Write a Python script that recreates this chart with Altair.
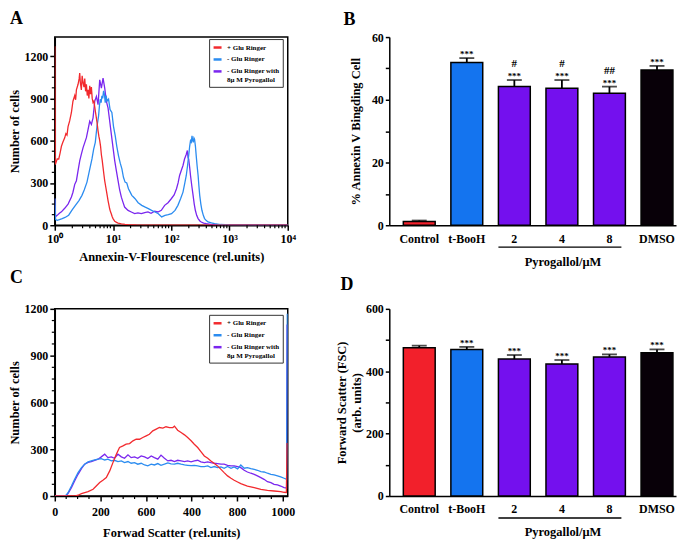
import altair as alt
import pandas as pd

FONT = "Liberation Serif"

# ---------------- shared categories / colours ----------------
SERIES = ["+ Glu Ringer", "- Glu Ringer", "- Glu Ringer with 8μM Pyrogallol"]
SERIES_SPLIT = ["- Glu Ringer with", "8μ M Pyrogallol"]
LINE_COLORS = ["#f22a2e", "#2b8cf0", "#7a26ee"]

CATS = ["Control", "t-BooH", "2", "4", "8", "DMSO"]
BAR_COLORS = ["#f2202b", "#1474ef", "#7410ee", "#7410ee", "#7410ee", "#080008"]
GROUP_LABEL = "Pyrogallol/μM"

# ---------------- Panel A: Annexin-V fluorescence (log x) ----------------
A_RED = [(1.0, 1270), (1.02, 430), (1.1, 470), (1.17, 470), (1.23, 510), (1.3, 560), (1.38, 590),
         (1.48, 620), (1.55, 650), (1.62, 640), (1.69, 700), (1.8, 740), (1.93, 800), (2.05, 880),
         (2.2, 920), (2.28, 890), (2.35, 960), (2.51, 1000), (2.62, 1040), (2.68, 1080), (2.75, 1010),
         (2.86, 960), (2.95, 1060), (3.06, 1010), (3.17, 980), (3.27, 1040), (3.38, 950), (3.49, 1000),
         (3.61, 920), (3.73, 960), (3.85, 900), (3.98, 990), (4.12, 930), (4.25, 980), (4.39, 900),
         (4.54, 870), (4.7, 880), (4.85, 840), (5.01, 800), (5.18, 760), (5.35, 720), (5.53, 670),
         (5.72, 630), (5.91, 600), (6.11, 560), (6.31, 500), (6.52, 460), (6.74, 410), (6.97, 360),
         (7.2, 315), (7.44, 280), (7.69, 245), (7.95, 210), (8.21, 175), (8.49, 145), (8.77, 115),
         (9.06, 95), (9.36, 80), (9.68, 60), (10.0, 47), (10.7, 28), (11.5, 20), (12.2, 15), (13.9, 10),
         (16.0, 6), (18.1, 4), (25.0, 2), (40.0, 1), (60.0, 0), (10000, 0)]
A_BLUE = [(1.0, 190), (1.03, 40), (1.1, 35), (1.2, 40), (1.34, 47), (1.5, 55), (1.73, 71), (2.0, 110),
          (2.26, 141), (2.6, 175), (2.93, 212), (3.2, 250), (3.57, 306), (3.9, 380), (4.35, 470),
          (4.65, 540), (4.96, 588), (5.3, 700), (5.65, 776), (5.85, 850), (6.03, 894), (6.25, 870),
          (6.44, 918), (6.65, 900), (6.88, 953), (7.1, 930), (7.35, 870), (7.6, 920), (7.9, 880),
          (8.38, 894), (8.9, 820), (9.55, 800), (10.2, 700), (10.9, 635), (11.6, 560), (12.4, 494),
          (13.3, 440), (14.2, 400), (15.1, 340), (16.1, 306), (17.2, 300), (18.4, 259), (19.7, 235),
          (21.0, 212), (22.4, 200), (23.9, 188), (27, 160), (31.1, 141), (35, 130), (40.4, 118),
          (46, 105), (52.6, 94), (60, 82), (68.4, 59), (78, 70), (88.9, 75), (101, 82), (116, 105),
          (130, 141), (145, 190), (159, 235), (171, 300), (181, 353), (190, 420), (199, 494),
          (207, 560), (214, 600), (221, 590), (227, 635), (233, 600), (239, 588), (245, 620),
          (251, 611), (260, 560), (268, 494), (278, 420), (289, 353), (298, 280), (308, 212),
          (322, 150), (336, 106), (355, 70), (373, 47), (400, 33), (427, 23), (490, 16), (554, 11),
          (700, 5), (1000, 2), (10000, 0)]
A_PURPLE = [(1.0, 190), (1.03, 60), (1.1, 70), (1.2, 85), (1.3, 95), (1.48, 120), (1.69, 150),
            (1.93, 200), (2.05, 234), (2.2, 290), (2.35, 316), (2.51, 387), (2.68, 457), (2.86, 504),
            (3.06, 551), (3.27, 586), (3.49, 621), (3.73, 680), (3.98, 738), (4.25, 715), (4.54, 762),
            (4.85, 879), (5.18, 914), (5.53, 855), (5.91, 1031), (6.31, 973), (6.74, 1043), (7.2, 973),
            (7.69, 879), (8.21, 832), (8.77, 738), (9.36, 645), (10.0, 551), (10.7, 457), (11.4, 387),
            (12.2, 316), (13.0, 250), (13.9, 199), (14.8, 164), (15.8, 129), (18.1, 105), (20.6, 94),
            (23.5, 82), (26.8, 88), (30.6, 82), (35, 90), (39.8, 94), (45, 85), (51.8, 100), (59, 94),
            (67.5, 106), (77, 141), (88, 160), (100, 188), (112, 215), (123, 259), (131, 300),
            (139, 353), (149, 390), (159, 424), (169, 470), (180, 500), (189, 530), (194, 480),
            (199, 470), (207, 410), (214, 353), (225, 280), (237, 212), (248, 150), (259, 106),
            (273, 70), (289, 47), (310, 30), (327, 23), (360, 15), (400, 11), (500, 5), (700, 2),
            (10000, 0)]
A_X_TICKS = [1, 10, 100, 1000, 10000]
A_X_LABELS = ["10⁰", "10¹", "10²", "10³", "10⁴"]
A_X_MINOR = [2, 3, 4, 5, 6, 7, 8, 9, 20, 30, 40, 50, 60, 70, 80, 90,
             200, 300, 400, 500, 600, 700, 800, 900, 2000, 3000, 4000, 5000, 6000, 7000, 8000, 9000]
HIST_Y_TICKS = [0, 300, 600, 900, 1200]
HIST_Y_MINOR = [75, 150, 225, 375, 450, 525, 675, 750, 825, 975, 1050, 1125]

# ---------------- Panel C: forward scatter (linear x) ----------------
C_RED = [(0, 0), (87, 0), (102, 5), (117, 15), (146, 28), (168, 43), (182, 64), (197, 86), (211, 101),
         (226, 118), (241, 161), (255, 214), (270, 268), (284, 311), (299, 321), (313, 332), (328, 336),
         (343, 354), (357, 364), (372, 364), (386, 375), (401, 386), (415, 396), (430, 418), (445, 429),
         (459, 439), (474, 435), (488, 444), (503, 439), (518, 439), (525, 448), (539, 422), (554, 407),
         (569, 392), (583, 375), (598, 354), (612, 332), (627, 311), (641, 285), (656, 257), (671, 242),
         (685, 225), (700, 208), (714, 193), (729, 171), (743, 150), (758, 129), (773, 114), (787, 101),
         (802, 90), (816, 79), (845, 64), (875, 54), (904, 43), (933, 36), (962, 32), (991, 28),
         (1006, 24), (1016, 22), (1019, 340)]
C_BLUE = [(0, 0), (29, 0), (47, 0), (58, 21), (73, 64), (87, 107), (102, 150), (117, 182), (131, 204),
          (146, 219), (160, 225), (175, 231), (190, 236), (204, 240), (219, 231), (233, 236), (248, 225),
          (262, 229), (277, 221), (292, 225), (306, 214), (321, 221), (335, 210), (350, 214), (364, 204),
          (379, 210), (394, 199), (408, 193), (423, 204), (437, 199), (452, 208), (466, 197), (481, 204),
          (496, 212), (510, 206), (525, 204), (539, 210), (554, 204), (569, 199), (583, 197), (598, 195),
          (612, 197), (627, 193), (641, 189), (656, 189), (671, 193), (685, 182), (700, 189), (714, 182),
          (729, 186), (743, 178), (758, 189), (773, 178), (787, 186), (802, 174), (816, 199), (831, 178),
          (845, 182), (860, 176), (875, 171), (889, 165), (904, 156), (918, 154), (933, 146), (948, 139),
          (962, 135), (977, 129), (991, 122), (1006, 114), (1017, 107), (1020, 1168)]
C_PURPLE = [(0, 0), (47, 0), (58, 15), (73, 54), (87, 96), (102, 139), (117, 176), (131, 204), (146, 216),
            (160, 221), (175, 229), (190, 236), (204, 251), (219, 268), (226, 257), (233, 246), (248, 251),
            (262, 242), (277, 268), (292, 251), (306, 242), (321, 264), (335, 246), (350, 251), (364, 242),
            (379, 257), (394, 251), (408, 240), (423, 257), (437, 246), (452, 236), (466, 262), (481, 242),
            (496, 225), (510, 229), (525, 221), (539, 229), (554, 225), (569, 221), (583, 225), (598, 219),
            (612, 225), (627, 229), (641, 219), (656, 214), (671, 219), (685, 214), (700, 210), (714, 208),
            (729, 204), (743, 204), (758, 197), (773, 193), (787, 193), (802, 189), (816, 182), (831, 165),
            (845, 154), (860, 146), (875, 139), (889, 129), (904, 118), (918, 107), (933, 92), (948, 86),
            (962, 75), (977, 71), (991, 64), (1006, 54), (1017, 51), (1019, 1100)]
C_X_TICKS = [0, 200, 400, 600, 800, 1000]
C_X_LABELS = ["0", "200", "600", "400", "800", "1000"]
C_X_MINOR = [50, 100, 150, 250, 300, 350, 450, 500, 550, 650, 700, 750, 850, 900, 950]

# ---------------- Panel B: % Annexin V binding ----------------
B_MEAN = [1.2, 51.9, 44.2, 43.7, 42.1, 49.5]
B_ERR = [0.3, 1.4, 2.1, 2.6, 2.1, 1.3]
B_STARS = ["", "***", "***", "***", "***", "***"]
B_HASH = ["", "", "#", "#", "##", ""]
B_Y_TICKS = [0, 10, 20, 30, 40, 50, 60]

# ---------------- Panel D: forward scatter bars ----------------
D_MEAN = [475, 470, 439, 423, 446, 459]
D_ERR = [7, 8, 13, 13, 8, 11]
D_STARS = ["", "***", "***", "***", "***", "***"]
D_HASH = ["", "", "", "", "", ""]
D_Y_TICKS = [0, 100, 200, 300, 400, 500, 600]

W1, W2 = 234, 288
H_TOP, H_BOT = 189, 188


def label_expr(values, labels):
    expr = "''"
    for v, l in reversed(list(zip(values, labels))):
        expr = f"datum.value == {v} ? '{l}' : ({expr})"
    return expr


def hist_df(curves):
    rows = []
    for name, pts in zip(SERIES, curves):
        for i, (x, y) in enumerate(pts):
            rows.append({"series": name, "x": x, "y": y, "i": i})
    return pd.DataFrame(rows)


def panel_title(text, dx, offset):
    return alt.TitleParams(text=text, anchor="start", frame="group", dx=dx, offset=offset,
                           fontSize=18, font=FONT, fontWeight="bold", color="black")


def hist_panel(df, x_scale, x_axis, y_scale, y_axis, minor_x, minor_y, w, h, leg_y, title):
    legend = alt.Legend(title=None, orient="none", legendX=155, legendY=leg_y, direction="vertical",
                        strokeColor="#333333", fillColor="white", padding=3, labelFontSize=7,
                        labelFont=FONT, labelFontWeight="bold", symbolType="stroke",
                        symbolStrokeWidth=2.5, symbolSize=64, rowPadding=1, labelLimit=200,
                        labelOffset=4,
                        labelExpr=f"datum.label == '{SERIES[2]}' ? ['{SERIES_SPLIT[0]}', '{SERIES_SPLIT[1]}'] : datum.label")
    color = alt.Color("series:N", scale=alt.Scale(domain=SERIES, range=LINE_COLORS), legend=legend)
    layers = []
    for name in [SERIES[2], SERIES[1], SERIES[0]]:
        layers.append(
            alt.Chart(df).transform_filter(alt.datum.series == name)
            .mark_line(strokeWidth=1.3, clip=True)
            .encode(x=alt.X("x:Q", scale=x_scale, axis=x_axis),
                    y=alt.Y("y:Q", scale=y_scale, axis=y_axis),
                    color=color, order="i:Q"))
    mx = alt.Chart(pd.DataFrame({"v": minor_x})).mark_rule(color="black", strokeWidth=1.2).encode(
        x=alt.X("v:Q", scale=x_scale, axis=x_axis), y=alt.value(h), y2=alt.value(h + 3))
    my = alt.Chart(pd.DataFrame({"v": minor_y})).mark_rule(color="black", strokeWidth=1.2).encode(
        y=alt.Y("v:Q", scale=y_scale, axis=y_axis), x=alt.value(-3), x2=alt.value(0))
    return alt.layer(*layers, mx, my).properties(
        width=w, height=h, title=title,
        view=alt.ViewBackground(stroke="black", strokeWidth=1.5))


def bar_panel(mean, err, stars, hashes, y_domain, y_ticks, label_every, y_title, title_pad, h, title):
    df = pd.DataFrame({"cat": CATS, "mean": mean, "top": [m + e for m, e in zip(mean, err)],
                       "stars": stars, "hash": hashes})
    xs = alt.Scale(domain=CATS, paddingInner=0.33, paddingOuter=0.18, align=0.82)
    xa = alt.Axis(title=GROUP_LABEL, labelAngle=0, ticks=False, labelPadding=8, titlePadding=11,
                  titleX=174, titleAlign="center")
    ys = alt.Scale(domain=y_domain, nice=False)
    ya = alt.Axis(title=y_title, values=y_ticks, tickSize=4, titlePadding=title_pad,
                  labelExpr=f"datum.value % {label_every} == 0 ? datum.label : ''")
    X = alt.X("cat:N", scale=xs, axis=xa, sort=CATS)
    bars = alt.Chart(df).mark_bar(stroke="black", strokeWidth=1.5).encode(
        x=X, y=alt.Y("mean:Q", scale=ys, axis=ya),
        color=alt.Color("cat:N", scale=alt.Scale(domain=CATS, range=BAR_COLORS), legend=None))
    err_line = alt.Chart(df).mark_rule(color="black", strokeWidth=1.8).encode(
        x=X, y=alt.Y("mean:Q", scale=ys, axis=ya), y2="top:Q")
    caps = alt.Chart(df).mark_tick(color="black", thickness=1.8, size=15).encode(
        x=X, y=alt.Y("top:Q", scale=ys, axis=ya))
    star_t = alt.Chart(df).mark_text(fontSize=9, baseline="alphabetic", dy=-1, fontWeight="bold",
                                     color="black").encode(
        x=X, y=alt.Y("top:Q", scale=ys, axis=ya), text="stars:N")
    hash_t = alt.Chart(df).mark_text(fontSize=11, baseline="alphabetic", dy=-13, fontWeight="bold",
                                     color="black").encode(
        x=X, y=alt.Y("top:Q", scale=ys, axis=ya), text="hash:N")
    grp = alt.Chart(pd.DataFrame({"s": [CATS[2]], "e": [CATS[4]]})).mark_rule(
        color="black", strokeWidth=1.5, xOffset=-16, x2Offset=12).encode(
        x=alt.X("s:N", scale=xs, axis=xa, sort=CATS), x2="e:N", y=alt.value(h + 22))
    return alt.layer(bars, err_line, caps, star_t, hash_t, grp).properties(
        width=W2, height=h, title=title)


# ---------------- build panels ----------------
a_df = hist_df([A_RED, A_BLUE, A_PURPLE])
A = hist_panel(
    a_df,
    alt.Scale(type="log", domain=[1, 10000], nice=False),
    alt.Axis(title="Annexin-V-Flourescence (rel.units)", values=A_X_TICKS, tickSize=5,
             labelExpr=label_expr(A_X_TICKS, A_X_LABELS), labelFlush=False, labelOverlap=False,
             labelPadding=3, titlePadding=6),
    alt.Scale(domain=[0, 1335], nice=False),
    alt.Axis(title="Number of cells", values=HIST_Y_TICKS, format="d", tickSize=5, titlePadding=2,
             labelPadding=2),
    A_X_MINOR, HIST_Y_MINOR, W1, H_TOP, 2, panel_title("A", -45, 9))

c_df = hist_df([C_RED, C_BLUE, C_PURPLE])
C = hist_panel(
    c_df,
    alt.Scale(domain=[0, 1022], nice=False),
    alt.Axis(title="Forwad Scatter (rel.units)", values=C_X_TICKS, tickSize=5,
             labelExpr=label_expr(C_X_TICKS, C_X_LABELS), labelFlush=False, labelOverlap=False,
             labelPadding=6, titlePadding=9),
    alt.Scale(domain=[0, 1200], nice=False),
    alt.Axis(title="Number of cells", values=HIST_Y_TICKS, format="d", tickSize=5, titlePadding=2,
             labelPadding=2),
    C_X_MINOR, HIST_Y_MINOR, W1, H_BOT, 6, panel_title("C", -45, 16))

B = bar_panel(B_MEAN, B_ERR, B_STARS, B_HASH, [0, 60], B_Y_TICKS, 20,
              "% Annexin V Bingding Cell", 9, H_TOP, panel_title("B", -46, 2))
D = bar_panel(D_MEAN, D_ERR, D_STARS, D_HASH, [0, 600], D_Y_TICKS, 200,
              ["Forward Scatter (FSC)", "(arb. units)"], 2, H_BOT, panel_title("D", -49, 9))

chart = alt.concat(A, B, C, D, columns=2, spacing={"row": 84, "column": 102}, bounds="flush").resolve_scale(
    color="independent"
).properties(
    padding=0
).configure(font=FONT).configure_view(stroke="transparent").configure_axis(
    grid=False, domainColor="black", domainWidth=1.5, tickColor="black", tickWidth=1.5,
    labelColor="black", titleColor="black", labelFont=FONT, titleFont=FONT,
    labelFontWeight="bold", titleFontWeight="bold", labelFontSize=12, titleFontSize=12.5
).configure_text(font=FONT)

chart.save("out.html", embed_options={"renderer": "svg", "actions": False})
